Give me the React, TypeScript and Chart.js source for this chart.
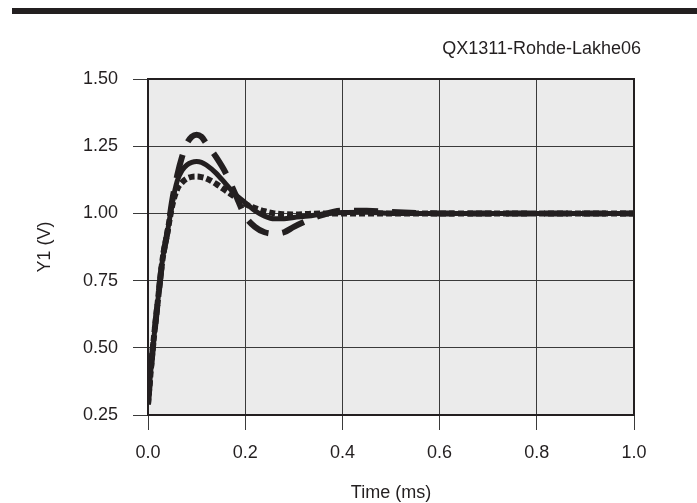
import React, { useEffect, useRef } from "react";
import { Chart, registerables } from "chart.js";

Chart.register(...registerables);

const timeMs = [0, 0.005, 0.01, 0.02, 0.03, 0.04, 0.05, 0.06, 0.07, 0.08, 0.09, 0.1, 0.11, 0.12, 0.14, 0.16, 0.18, 0.2, 0.22, 0.24, 0.26, 0.28, 0.3, 0.33, 0.36, 0.4, 0.45, 0.5, 0.6, 0.7, 0.8, 0.9, 1.0];

const solidY1 = [0.29, 0.4, 0.5, 0.67, 0.83, 0.93, 1.04, 1.12, 1.16, 1.18, 1.19, 1.193, 1.19, 1.18, 1.15, 1.11, 1.07, 1.04, 1.01, 0.99, 0.98, 0.98, 0.985, 0.99, 0.998, 1.003, 1.004, 1.0, 1.0, 1.0, 1.0, 1.0, 1.0];

const dashedY1 = [0.29, 0.4, 0.5, 0.67, 0.83, 0.93, 1.05, 1.14, 1.21, 1.26, 1.285, 1.293, 1.285, 1.26, 1.21, 1.15, 1.07, 0.99, 0.95, 0.93, 0.925, 0.93, 0.95, 0.975, 0.995, 1.01, 1.01, 1.005, 1.0, 1.0, 1.0, 1.0, 1.0];

const dottedY1 = [0.29, 0.4, 0.5, 0.67, 0.83, 0.93, 1.03, 1.09, 1.115, 1.13, 1.136, 1.137, 1.135, 1.13, 1.11, 1.085, 1.06, 1.035, 1.02, 1.008, 1.0, 0.997, 0.996, 0.998, 1.0, 1.0, 1.0, 1.0, 1.0, 1.0, 1.0, 1.0, 1.0];

const chartTitle = "QX1311-Rohde-Lakhe06";
const xTitle = "Time (ms)";
const yTitle = "Y1 (V)";

const FONT = "'Liberation Sans', Arial, sans-serif";

const decorPlugin = {
  id: "decor",
  beforeDatasetsDraw(chart: any) {},
  beforeDraw(chart: any) {
    const { ctx, chartArea } = chart;
    ctx.save();
    ctx.fillStyle = "#ffffff";
    ctx.fillRect(0, 0, chart.width, chart.height);
    ctx.fillStyle = "#ebebeb";
    ctx.fillRect(chartArea.left, chartArea.top, chartArea.right - chartArea.left, chartArea.bottom - chartArea.top);
    // top black rule
    ctx.fillStyle = "#231f20";
    ctx.fillRect(12, 8, chart.width - 12, 6);
    // title
    ctx.fillStyle = "#231f20";
    ctx.font = "18px " + FONT;
    ctx.textAlign = "right";
    ctx.textBaseline = "middle";
    ctx.fillText(chartTitle, 641, 49);
    ctx.restore();
  },
  afterDraw(chart: any) {
    const { ctx, chartArea } = chart;
    ctx.save();
    ctx.strokeStyle = "#231f20";
    ctx.lineWidth = 2;
    ctx.strokeRect(chartArea.left, chartArea.top, chartArea.right - chartArea.left, chartArea.bottom - chartArea.top);
    ctx.restore();
  },
};

export default function App() {
  const ref = useRef<HTMLCanvasElement | null>(null);
  useEffect(() => {
    if (!ref.current) return;
    const mk = (vals: number[]) => timeMs.map((t, i) => ({ x: t, y: vals[i] }));
    const common = {
      borderColor: "#231f20",
      pointRadius: 0,
      fill: false,
      cubicInterpolationMode: "monotone" as const,
      borderCapStyle: "butt" as const,
    };
    const chart = new Chart(ref.current, {
      type: "line",
      data: {
        datasets: [
          { ...common, label: "dotted", data: mk(dottedY1), borderWidth: 6, borderDash: [6, 3] },
          { ...common, label: "solid", data: mk(solidY1), borderWidth: 5 },
          { ...common, label: "dashed", data: mk(dashedY1), borderWidth: 6, borderDash: [24, 14] },
        ],
      },
      options: {
        animation: false,
        responsive: false,
        maintainAspectRatio: false,
        layout: { padding: { top: 79, right: 63, left: 0, bottom: 0 } },
        plugins: { legend: { display: false }, tooltip: { enabled: false }, title: { display: false } },
        scales: {
          x: {
            type: "linear",
            min: 0,
            max: 1,
            afterFit: (s: any) => { s.height = 88; },
            ticks: {
              stepSize: 0.2,
              color: "#231f20",
              font: { family: FONT, size: 18 },
              padding: 12,
              callback: (v: any) => Number(v).toFixed(1),
            },
            grid: { color: "#3a3a3a", lineWidth: 1, tickLength: 15, drawTicks: true },
            border: { display: false },
            title: { display: true, text: xTitle, color: "#231f20", font: { family: FONT, size: 18, lineHeight: 1.1 }, padding: { top: 0, bottom: 0 } },
          },
          y: {
            type: "linear",
            min: 0.25,
            max: 1.5,
            afterFit: (s: any) => { s.width = 148; },
            ticks: {
              stepSize: 0.25,
              color: "#231f20",
              font: { family: FONT, size: 18 },
              padding: 15,
              callback: (v: any) => Number(v).toFixed(2),
            },
            grid: { color: "#3a3a3a", lineWidth: 1, tickLength: 15, drawTicks: true },
            border: { display: false },
            title: { display: true, text: yTitle, color: "#231f20", font: { family: FONT, size: 18 }, padding: { top: 34, bottom: 0 } },
          },
        },
      },
      plugins: [decorPlugin],
    });
    return () => chart.destroy();
  }, []);
  return (
    <div style={{ position: "fixed", left: 0, top: 0, width: 697, height: 503, background: "#fff" }}>
      <canvas ref={ref} width={697} height={503} style={{ width: 697, height: 503, display: "block" }} />
    </div>
  );
}
